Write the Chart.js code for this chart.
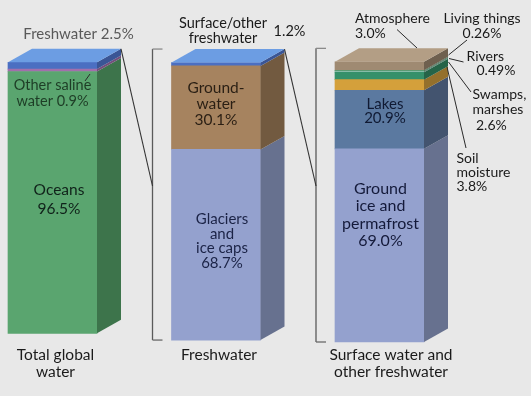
<!DOCTYPE html>
<html>
<head>
<meta charset="utf-8">
<script src="https://cdn.jsdelivr.net/npm/chart.js@4.4.0/dist/chart.umd.min.js"></script>
<style>
  html, body { margin: 0; padding: 0; background: #e8e8e8; }
  #wrap { width: 531px; height: 396px; position: relative; }
</style>
</head>
<body>
<div id="wrap"><canvas id="waterChart"></canvas></div>
<script>
// Earth's water: each column breaks down one slice of the column before it
var categories = [['Total global', 'water'], ['Freshwater'], ['Surface water and', 'other freshwater']];

var totalNames = ['Oceans', 'Other saline water', 'Freshwater'];
var totalValues = [96.5, 0.9, 2.5];

var freshNames = ['Glaciers and ice caps', 'Groundwater', 'Surface/other freshwater'];
var freshValues = [68.7, 30.1, 1.2];

var surfaceNames = ['Ground ice and permafrost', 'Lakes', 'Soil moisture', 'Swamps, marshes', 'Rivers', 'Living things', 'Atmosphere'];
var surfaceValues = [69.0, 20.9, 3.8, 2.6, 0.49, 0.26, 3.0];

// [front, side, top] per segment, bottom first
var totalColors = [['#5aa56f', '#3d744b', '#6cb380'], ['#a26fac', '#744f7c', '#b585be'], ['#4b6fc2', '#3a5595', '#6c9de3']];
var freshColors = [['#94a1ce', '#67718f', '#a5b1da'], ['#a6835f', '#725a40', '#b89670'], ['#4b6fc2', '#3a5595', '#6c9de3']];
var surfaceColors = [['#94a1ce', '#67718f', '#a5b1da'], ['#5b79a0', '#43546f', '#6d8ab0'], ['#d4a03b', '#94702c', '#e0b050'],
  ['#35906a', '#256448', '#45a07a'], ['#86bca8', '#5d8575', '#98c8b6'], ['#4e8f62', '#366645', '#60a075'], ['#9f8a72', '#6f604f', '#b39e85']];

var DX = 24, DY = 13.5;
var FONT = 'Lato, "Open Sans", sans-serif';

function pct(v, d) { return v.toFixed(d) + '%'; }

function addColumn(list, col, names, values, colors) {
  names.forEach(function (name, i) {
    list.push({
      label: name,
      data: categories.map(function (_, j) { return j === col ? values[i] : null; }),
      yAxisID: 'y' + col,
      backgroundColor: colors[i][0],
      sideColor: colors[i][1],
      topColor: colors[i][2],
      borderWidth: 0,
      barThickness: 89,
      clip: false
    });
  });
}

var datasets = [];
addColumn(datasets, 0, totalNames, totalValues, totalColors);
addColumn(datasets, 1, freshNames, freshValues, freshColors);
addColumn(datasets, 2, surfaceNames, surfaceValues, surfaceColors);

function poly(ctx, pts, color) {
  ctx.beginPath();
  ctx.moveTo(pts[0][0], pts[0][1]);
  for (var k = 1; k < pts.length; k++) ctx.lineTo(pts[k][0], pts[k][1]);
  ctx.closePath();
  ctx.fillStyle = color;
  ctx.fill();
}

function line(ctx, x1, y1, x2, y2, color, w) {
  ctx.beginPath();
  ctx.moveTo(x1, y1);
  ctx.lineTo(x2, y2);
  ctx.strokeStyle = color;
  ctx.lineWidth = w || 1;
  ctx.stroke();
}

function text(ctx, lines, x, y, gap, size, color, align) {
  ctx.font = size + 'px ' + FONT;
  ctx.fillStyle = color;
  ctx.textAlign = align || 'center';
  ctx.textBaseline = 'middle';
  lines.forEach(function (s, k) { ctx.fillText(s, x, y + k * gap); });
}

// outer box of each column (front face) from the bar elements
function columns(chart) {
  var cols = [];
  chart.data.datasets.forEach(function (ds, di) {
    chart.getDatasetMeta(di).data.forEach(function (bar, i) {
      if (ds.data[i] == null) return;
      var c = cols[i] || (cols[i] = { cx: bar.x, left: bar.x - bar.width / 2, right: bar.x + bar.width / 2, top: bar.y, base: bar.base, topDs: ds });
      if (bar.y < c.top) { c.top = bar.y; c.topDs = ds; }
      if (bar.base > c.base) c.base = bar.base;
    });
  });
  return cols;
}

var depthPlugin = {
  id: 'depth3d',
  beforeDraw: function (chart) {
    var ctx = chart.ctx;
    ctx.save();
    ctx.fillStyle = '#e8e8e8';
    ctx.fillRect(0, 0, chart.width, chart.height);
    ctx.restore();
  },
  afterDatasetsDraw: function (chart) {
    var ctx = chart.ctx;
    ctx.save();
    chart.data.datasets.forEach(function (ds, di) {
      chart.getDatasetMeta(di).data.forEach(function (bar, i) {
        if (ds.data[i] == null) return;
        var r = bar.x + bar.width / 2, t = bar.y, b = bar.base;
        poly(ctx, [[r, t], [r + DX, t - DY], [r + DX, b - DY], [r, b]], ds.sideColor);
      });
    });
    var cols = columns(chart);
    cols.forEach(function (c) {
      poly(ctx, [[c.left, c.top], [c.left + DX, c.top - DY], [c.right + DX, c.top - DY], [c.right, c.top]], c.topDs.topColor);
    });

    // brackets and the lines that tie each column to the next
    [1, 2].forEach(function (k) {
      var c = cols[k], p = cols[k - 1];
      var bx = c.left - 19;
      line(ctx, bx, c.top - DY, bx, c.base, '#5a5a5a', 1.3);
      line(ctx, bx, c.top - DY, bx + 10, c.top - DY, '#8a8a8a', 1.3);
      line(ctx, bx, c.base, bx + 10, c.base, '#6a6a6a', 1.3);
      line(ctx, p.right + DX, p.top - DY, bx, 186, '#333333', 1.1);
    });
    ctx.restore();
  },
  afterDraw: function (chart) {
    var ctx = chart.ctx;
    var cols = columns(chart);
    var a = cols[0].cx, b = cols[1].cx, c = cols[2].cx;
    ctx.save();

    // column 1
    text(ctx, ['Freshwater ' + pct(totalValues[2], 1)], a + 26, 34, 0, 15, '#595959');
    text(ctx, ['Other saline', 'water ' + pct(totalValues[1], 1)], a, 85, 16, 14.5, '#1e3d26');
    text(ctx, [totalNames[0], pct(totalValues[0], 1)], a + 6.5, 189.5, 19, 15.5, '#10221a');

    // column 2
    text(ctx, ['Surface/other', 'freshwater'], b + 7, 23, 15, 14.5, '#1a1a1a');
    text(ctx, [pct(freshValues[2], 1)], b + 73.5, 31, 0, 14.5, '#1a1a1a');
    text(ctx, ['Ground-', 'water', pct(freshValues[1], 1)], b, 87.5, 16, 15.5, '#2a1f14');
    text(ctx, ['Glaciers', 'and', 'ice caps', pct(freshValues[0], 1)], b + 6, 219.5, 14.5, 15, '#1b2346');

    // column 3
    text(ctx, [surfaceNames[1], pct(surfaceValues[1], 1)], c + 5.5, 104, 14, 15, '#101a33');
    text(ctx, ['Ground', 'ice and', 'permafrost', pct(surfaceValues[0], 1)], c + 1, 189, 17.2, 16, '#141a3a');

    // call-outs for the thin layers
    text(ctx, [surfaceNames[6], pct(surfaceValues[6], 1)], 355, 18.5, 15, 14, '#1a1a1a', 'left');
    text(ctx, [surfaceNames[5], pct(surfaceValues[5], 2)], 482, 18.5, 15, 14, '#1a1a1a');
    text(ctx, [surfaceNames[4]], 466.5, 56.5, 0, 14, '#1a1a1a', 'left');
    text(ctx, [pct(surfaceValues[4], 2)], 476.5, 70.5, 0, 14, '#1a1a1a', 'left');
    text(ctx, ['Swamps,', 'marshes'], 472.5, 94, 15.5, 14, '#1a1a1a', 'left');
    text(ctx, [pct(surfaceValues[3], 1)], 476, 125, 0, 14, '#1a1a1a', 'left');
    text(ctx, ['Soil', 'moisture', pct(surfaceValues[2], 1)], 456.5, 158.5, 14.2, 14, '#1a1a1a', 'left');

    line(ctx, 90, 74, 85, 81, '#2a2a2a', 1);
    line(ctx, 397, 29.5, 417, 48, '#2a2a2a', 1);
    line(ctx, 467, 40, 448.5, 55, '#2a2a2a', 1);
    line(ctx, 463.5, 62, 449, 58.5, '#2a2a2a', 1);
    line(ctx, 471, 92, 448.5, 62, '#2a2a2a', 1);
    line(ctx, 466, 148, 447, 67, '#2a2a2a', 1);

    // category names under the columns
    var shift = [3, 3, 11.5];
    categories.forEach(function (cat, i) {
      text(ctx, cat, cols[i].cx + shift[i], 355, 16.5, 15.5, '#1a1a1a');
    });
    ctx.restore();
  }
};

new Chart(document.getElementById('waterChart').getContext('2d'), {
  type: 'bar',
  data: { labels: categories, datasets: datasets },
  options: {
    responsive: true,
    maintainAspectRatio: false,
    animation: false,
    layout: { padding: { left: 52.5, right: 151.5, top: 62, bottom: 54 } },
    plugins: { legend: { display: false }, tooltip: { enabled: false } },
    scales: {
      x: { display: false, stacked: true, offset: false },
      y0: { display: false, stacked: true, min: -3.2, max: 100 },
      y1: { display: false, stacked: true, min: -0.7, max: 100.2 },
      y2: { display: false, stacked: true, min: 0, max: 100 }
    }
  },
  plugins: [depthPlugin]
});
</script>
</body>
</html>
